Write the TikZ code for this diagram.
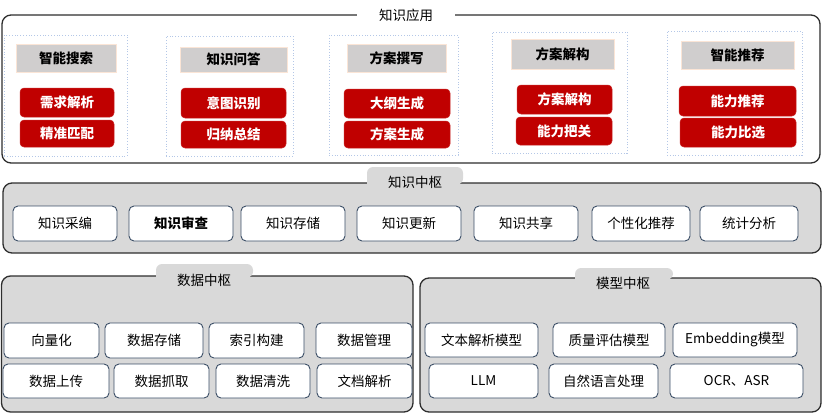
\documentclass[tikz,border=0pt]{standalone}
\usepackage{fontspec}
\setmainfont{Noto Sans CJK SC}
\definecolor{framec}{HTML}{2E2E2E}
\definecolor{panelgray}{HTML}{D9D9D9}
\definecolor{boxedge}{HTML}{3B4E66}
\definecolor{redbox}{HTML}{C00000}
\definecolor{headgray}{HTML}{D0CECE}
\definecolor{headedge}{HTML}{FBE5D6}
\definecolor{dotblue}{HTML}{B4C7E7}
\newcommand\mybox[7]{%
  \pgfmathsetmacro\myCX{(#3+#5)/2}%
  \pgfmathsetmacro\myCY{(#4+#6)/2}%
  \pgfmathsetmacro\myW{#5-#3}%
  \pgfmathsetmacro\myH{#6-#4}%
  \node[#2, minimum width=\myW pt, minimum height=\myH pt, inner sep=0pt] (#1) at (\myCX,\myCY) {#7};}
\newcommand\mytab[4]{% x1 x2 ytop ybottom
  \fill[panelgray, rounded corners=6pt] (#1,#4) -- (#1,#3) -- (#2,#3) -- (#2,#4) [sharp corners] -- cycle;}
\begin{document}
\begin{tikzpicture}[x=1pt,y=-1pt,
  bigframe/.style={draw=framec, line width=1.3pt, rounded corners=9pt},
  grayframe/.style={bigframe, fill=panelgray},
  groupbox/.style={draw=dotblue, dotted, line width=0.8pt},
  headbox/.style={fill=headgray, draw=headedge, line width=0.8pt, font=\fontsize{13.5}{15}\selectfont\bfseries},
  redbtn/.style={fill=redbox, draw=redbox!85!white, line width=0.5pt, rounded corners=4pt, text=white, font=\fontsize{13.5}{15}\selectfont\bfseries},
  wbox/.style={fill=white, draw=boxedge, line width=0.9pt, rounded corners=5pt, font=\fontsize{13.5}{15}\selectfont},
  titletext/.style={font=\fontsize{13.5}{15}\selectfont, inner sep=0pt}
]
\useasboundingbox (0,0) rectangle (823,413);

% ---------- 知识应用 ----------
\mybox{appframe}{bigframe, fill=white}{2}{15}{820}{163}{}
\node[fill=white, minimum width=98pt, minimum height=14pt, inner sep=0pt, font=\fontsize{13.5}{15}\selectfont] (apptitle) at (406,15) {知识应用};

\mybox{g1}{groupbox}{4}{35}{127}{156}{}
\mybox{g2}{groupbox}{166}{36}{293}{156}{}
\mybox{g3}{groupbox}{329}{35}{458}{155}{}
\mybox{g4}{groupbox}{492}{32}{627}{153}{}
\mybox{g5}{groupbox}{667}{31}{802}{155}{}

\mybox{h1}{headbox}{16}{44}{116}{72}{智能搜索}
\mybox{h2}{headbox}{180}{47}{287}{72}{知识问答}
\mybox{h3}{headbox}{347}{44}{446}{72}{方案撰写}
\mybox{h4}{headbox}{511}{39}{614}{69}{方案解构}
\mybox{h5}{headbox}{681}{41}{794}{69}{智能推荐}

\mybox{r1a}{redbtn}{20}{88}{114}{117}{需求解析}
\mybox{r1b}{redbtn}{20}{120}{114}{147}{精准匹配}
\mybox{r2a}{redbtn}{181}{88}{286}{118}{意图识别}
\mybox{r2b}{redbtn}{181}{121}{286}{148}{归纳总结}
\mybox{r3a}{redbtn}{344}{89}{450}{118}{大纲生成}
\mybox{r3b}{redbtn}{344}{121}{450}{148}{方案生成}
\mybox{r4a}{redbtn}{517}{85}{612}{114}{方案解构}
\mybox{r4b}{redbtn}{516}{117}{612}{145}{能力把关}
\mybox{r5a}{redbtn}{679}{86}{796}{116}{能力推荐}
\mybox{r5b}{redbtn}{680}{118}{796}{147}{能力比选}

% ---------- 知识中枢 ----------
\mybox{kframe}{grayframe}{3}{183}{821}{253}{}
\mytab{367}{463}{167}{184.5}
\node[titletext] (ktitle) at (415,182) {知识中枢};
\mybox{k1}{wbox}{13}{206}{117}{241}{知识采编}
\mybox{k2}{wbox, font=\fontsize{13.5}{15}\selectfont\bfseries}{129}{206}{233}{241}{知识审查}
\mybox{k3}{wbox}{241}{206}{345}{241}{知识存储}
\mybox{k4}{wbox}{357}{206}{461}{241}{知识更新}
\mybox{k5}{wbox}{474}{206}{578}{241}{知识共享}
\mybox{k6}{wbox}{592}{206}{690}{241}{个性化推荐}
\mybox{k7}{wbox}{700}{206}{798}{241}{统计分析}

% ---------- 数据中枢 ----------
\mybox{dframe}{grayframe}{1.5}{276}{413}{412}{}
\mytab{156}{253}{264}{277.5}
\node[titletext] (dtitle) at (204,280) {数据中枢};
\mybox{d1}{wbox}{4}{323}{99}{358}{向量化}
\mybox{d2}{wbox}{105}{323}{203}{358}{数据存储}
\mybox{d3}{wbox}{209}{323}{304}{358}{索引构建}
\mybox{d4}{wbox}{316}{323}{412}{358}{数据管理}
\mybox{d5}{wbox}{3}{364}{109}{398}{数据上传}
\mybox{d6}{wbox}{114}{364}{209}{398}{数据抓取}
\mybox{d7}{wbox}{216}{364}{310}{398}{数据清洗}
\mybox{d8}{wbox}{317}{364}{412}{398}{文档解析}

% ---------- 模型中枢 ----------
\mybox{mframe}{grayframe}{420}{278}{821}{412}{}
\mytab{575}{673}{268}{279.5}
\node[titletext] (mtitle) at (623,283) {模型中枢};
\mybox{m1}{wbox}{425}{323}{538}{357}{文本解析模型}
\mybox{m2}{wbox}{553}{323}{665}{357}{质量评估模型}
\mybox{m3}{wbox}{673}{323}{797}{357}{Embedding模型}
\mybox{m4}{wbox}{429}{364}{538}{398}{LLM}
\mybox{m5}{wbox}{549}{364}{658}{398}{自然语言处理}
\mybox{m6}{wbox}{670}{364}{803}{398}{OCR、ASR}
\end{tikzpicture}
\end{document}
